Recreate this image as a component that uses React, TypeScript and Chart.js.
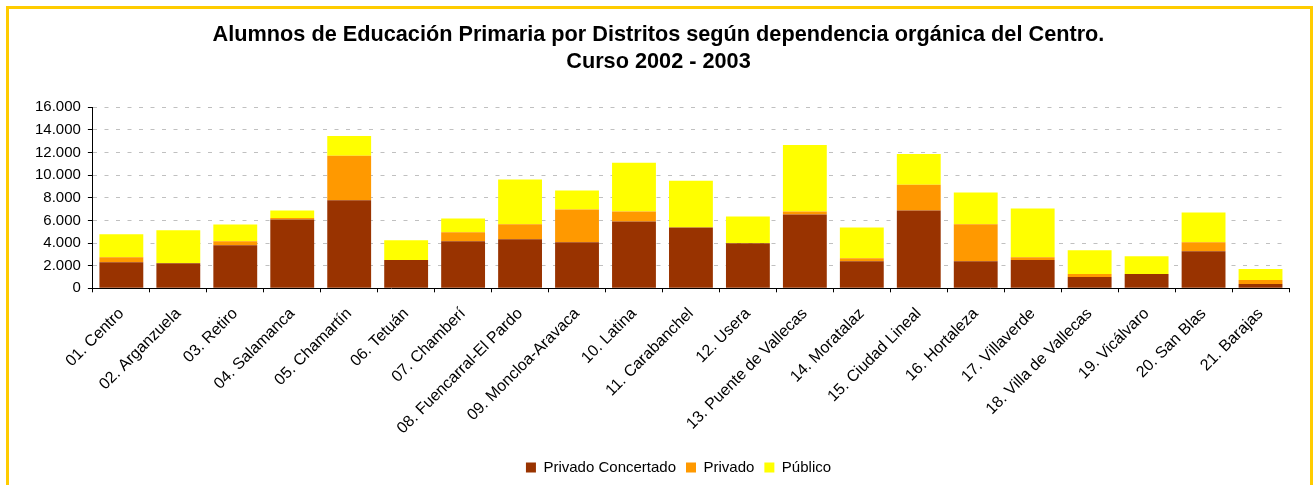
import React, { useEffect, useRef } from "react";
import { Chart, registerables } from "chart.js";

Chart.register(...registerables);

const titleLines = [
  "Alumnos de Educación Primaria por Distritos según dependencia orgánica del Centro.",
  "Curso 2002 - 2003",
];

const districts = [
  "01. Centro",
  "02. Arganzuela",
  "03. Retiro",
  "04. Salamanca",
  "05. Chamartín",
  "06. Tetuán",
  "07. Chamberí",
  "08. Fuencarral-El Pardo",
  "09. Moncloa-Aravaca",
  "10. Latina",
  "11. Carabanchel",
  "12. Usera",
  "13. Puente de Vallecas",
  "14. Moratalaz",
  "15. Ciudad Lineal",
  "16. Hortaleza",
  "17. Villaverde",
  "18. Villa de Vallecas",
  "19. Vicálvaro",
  "20. San Blas",
  "21. Barajas",
];

const privadoConcertado = [
  2310, 2220, 3800, 6080, 7780, 2490, 4150, 4330, 4070, 5910, 5380, 3980, 6520,
  2400, 6870, 2400, 2490, 1000, 1260, 3280, 380,
];

const privado = [
  440, 0, 350, 120, 3920, 0, 790, 1320, 2900, 880, 0, 0, 260, 260, 2280, 3250,
  260, 260, 0, 790, 350,
];

const publico = [
  2020, 2900, 1490, 670, 1755, 1750, 1230, 3950, 1670, 4300, 4120, 2370, 5880,
  2720, 2720, 2810, 4300, 2100, 1580, 2630, 970,
];

const seriesNames = ["Privado Concertado", "Privado", "Público"];
const seriesColors = ["#993300", "#FF9900", "#FFFF00"];

const yMin = 0;
const yMax = 16000;
const yStep = 2000;

const FONT = "'Liberation Sans', Arial, sans-serif";

function formatThousands(v: number): string {
  const s = Math.round(v).toString();
  return s.replace(/\B(?=(\d{3})+(?!\d))/g, ".");
}

const legendShift = {
  id: "legendShift",
  afterLayout(chart: any) {
    const lg = chart.legend;
    if (lg) {
      lg.left += 20;
      lg.right += 20;
    }
  },
};

export default function App() {
  const canvasRef = useRef<HTMLCanvasElement | null>(null);

  useEffect(() => {
    document.body.style.margin = "0";
    document.body.style.overflow = "hidden";
    document.documentElement.style.overflow = "hidden";
    const canvas = canvasRef.current;
    if (!canvas) return;
    const chart = new Chart(canvas, {
      type: "bar",
      data: {
        labels: districts,
        datasets: [privadoConcertado, privado, publico].map((d, i) => ({
          label: seriesNames[i],
          data: d,
          backgroundColor: seriesColors[i],
          borderWidth: 0,
          categoryPercentage: 1,
          barPercentage: 0.77,
        })),
      },
      plugins: [legendShift],
      options: {
        responsive: false,
        animation: false,
        devicePixelRatio: 1,
        layout: { padding: { left: 19, right: 21, top: 0, bottom: 0 } },
        plugins: {
          title: {
            display: true,
            text: titleLines,
            color: "#000",
            font: { family: FONT, size: 21.7, weight: "bold", lineHeight: 1.27 },
            padding: { top: 12, bottom: 31 },
          },
          legend: {
            display: true,
            position: "bottom",
            labels: {
              boxWidth: 10,
              boxHeight: 10,
              padding: 10,
              color: "#000",
              font: { family: FONT, size: 15 },
            },
          },
          tooltip: { enabled: false },
        },
        scales: {
          x: {
            stacked: true,
            grid: {
              display: true,
              drawOnChartArea: false,
              drawTicks: true,
              tickLength: 4,
              tickColor: "#000",
              offset: true,
            },
            border: { display: true, color: "#000", width: 1 },
            ticks: {
              color: "#000",
              font: { family: FONT, size: 16 },
              maxRotation: 45,
              minRotation: 45,
              autoSkip: false,
              padding: 12,
            },
          },
          y: {
            stacked: true,
            min: yMin,
            max: yMax,
            grid: {
              color: "#C0C0C0",
              lineWidth: 1,
              tickColor: "#000",
              tickLength: 5,
            },
            border: { display: true, color: "#000", width: 1, dash: [4, 7.5] },
            ticks: {
              stepSize: yStep,
              color: "#000",
              font: { family: FONT, size: 15 },
              padding: 7,
              callback: (v: any) => formatThousands(Number(v)),
            },
          },
        },
      },
    } as any);
    return () => chart.destroy();
  }, []);

  return (
    <div
      style={{
        position: "absolute",
        left: 6,
        top: 6,
        width: 1301,
        height: 476,
        borderTop: "3px solid #FFCC00",
        borderLeft: "3px solid #FFCC00",
        borderRight: "3px solid #FFCC00",
        background: "#fff",
      }}
    >
      <canvas
        ref={canvasRef}
        width={1301}
        height={476}
        style={{ display: "block", width: 1301, height: 476 }}
      />
    </div>
  );
}
